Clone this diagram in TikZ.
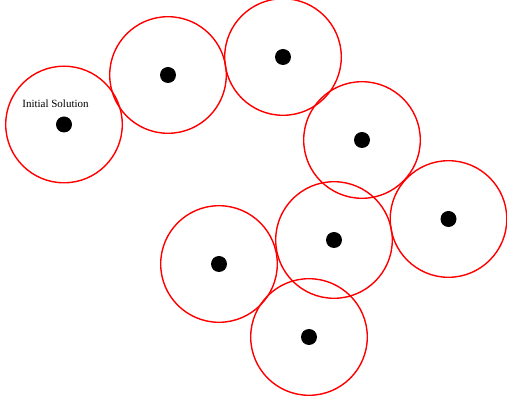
\documentclass[tikz,border=0pt]{standalone}
\usepackage{fontspec}
\setmainfont{Liberation Serif}
\begin{document}
\begin{tikzpicture}[x=1pt,y=-1pt,
  region/.style={circle,draw=red,line width=1.4pt,minimum size=116.6pt,inner sep=0pt},
  sol/.style={circle,fill=black,minimum size=16pt,inner sep=0pt}]
\useasboundingbox (0,0) rectangle (507,403);
\foreach \n/\x/\y in {a/64/124.5,b/168/75,c/283/57,d/362/140,e/448.5/219,f/334/240,g/219/264,h/309/337}{
  \node[region] (r\n) at (\x,\y) {};
  \node[sol] (s\n) at (\x,\y) {};
}
\node[font=\fontsize{11}{13}\selectfont,inner sep=0pt] (lbl) at (55.5,103.5) {Initial Solution};
\end{tikzpicture}
\end{document}
